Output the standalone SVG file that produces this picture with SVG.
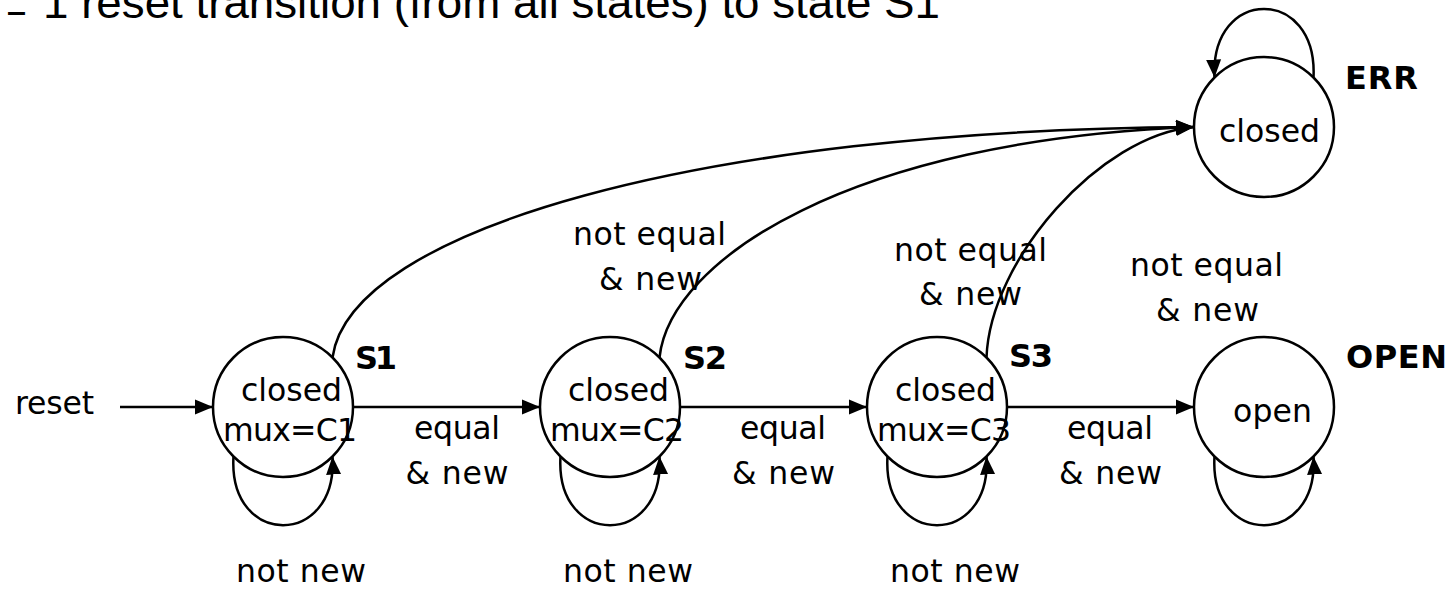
<svg xmlns="http://www.w3.org/2000/svg" width="1452" height="589" viewBox="0 0 1452 589">
<style>
.st{fill:#fff;stroke:#000;stroke-width:2.5}
.t{font-family:"DejaVu Sans","Liberation Sans",sans-serif;font-size:31.5px;fill:#000}
.b{font-family:"DejaVu Sans","Liberation Sans",sans-serif;font-size:32px;font-weight:bold;fill:#000}
.e{fill:none;stroke:#000;stroke-width:2.5}
.hd{font-family:"Liberation Sans",Arial,sans-serif;font-size:44px;fill:#000}
</style>
<defs>
<marker id="arr" markerUnits="userSpaceOnUse" markerWidth="19" markerHeight="16" refX="18" refY="8" orient="auto">
<path d="M0,0.5 L18,8 L0,15.5 z" fill="#000"/>
</marker>
</defs>
<g id="heading">
<text class="hd" x="8" y="25" textLength="17" lengthAdjust="spacingAndGlyphs">–</text>
<text class="hd" x="43" y="18" textLength="897" lengthAdjust="spacingAndGlyphs">1 reset transition (from all states) to state S1</text>
</g>
<g id="connectors">
<path class="e" d="M120,407 L213,407" marker-end="url(#arr)"/>
<path class="e" d="M353,407 L540,407" marker-end="url(#arr)"/>
<path class="e" d="M680,407 L867,407" marker-end="url(#arr)"/>
<path class="e" d="M1007,407 L1194,407" marker-end="url(#arr)"/>
<path class="e" d="M332.5,357.5 C350,230 700,130 1194,127" marker-end="url(#arr)"/>
<path class="e" d="M659.5,357.5 C670,260 850,140 1194,127" marker-end="url(#arr)"/>
<path class="e" d="M986.5,357.5 C990,260 1100,135 1194,127" marker-end="url(#arr)"/>
<path class="e" d="M233.5,456.5 C228,548 338,548 332.5,456.5" marker-end="url(#arr)"/>
<path class="e" d="M560.5,456.5 C555,548 665,548 659.5,456.5" marker-end="url(#arr)"/>
<path class="e" d="M887.5,456.5 C882,548 992,548 986.5,456.5" marker-end="url(#arr)"/>
<path class="e" d="M1214.5,456.5 C1209,548 1319,548 1313.5,456.5" marker-end="url(#arr)"/>
<path class="e" d="M1313.5,77.5 C1318,-14 1210,-14 1214.5,77.5" marker-end="url(#arr)"/>
<text class="t" x="15" y="414" textLength="79">reset</text>
<text class="t" x="414" y="439" textLength="86">equal</text>
<text class="t" x="405.5" y="484" textLength="103">&amp; new</text>
<text class="t" x="740" y="439" textLength="86">equal</text>
<text class="t" x="732" y="484" textLength="103">&amp; new</text>
<text class="t" x="1067" y="439" textLength="86">equal</text>
<text class="t" x="1059" y="484" textLength="103">&amp; new</text>
<text class="t" x="236" y="582" textLength="130">not new</text>
<text class="t" x="563" y="582" textLength="130">not new</text>
<text class="t" x="890" y="582" textLength="130">not new</text>
<text class="t" x="573" y="245" textLength="153">not equal</text>
<text class="t" x="599" y="290" textLength="103">&amp; new</text>
<text class="t" x="894" y="261" textLength="153">not equal</text>
<text class="t" x="919" y="305" textLength="103">&amp; new</text>
<text class="t" x="1130" y="276" textLength="153">not equal</text>
<text class="t" x="1156" y="321" textLength="103">&amp; new</text>
</g>
<g id="S1">
<circle class="st" cx="283" cy="407" r="70"/>
<text class="t" x="241" y="401" textLength="101">closed</text>
<text class="t" x="223" y="441" textLength="134">mux=C1</text>
<text class="b" x="355" y="369" textLength="42">S1</text>
</g>
<g id="S2">
<circle class="st" cx="610" cy="407" r="70"/>
<text class="t" x="568" y="401" textLength="101">closed</text>
<text class="t" x="550" y="441" textLength="134">mux=C2</text>
<text class="b" x="683" y="369" textLength="44">S2</text>
</g>
<g id="S3">
<circle class="st" cx="937" cy="407" r="70"/>
<text class="t" x="895" y="401" textLength="101">closed</text>
<text class="t" x="877" y="441" textLength="134">mux=C3</text>
<text class="b" x="1009" y="367" textLength="44">S3</text>
</g>
<g id="OPEN">
<circle class="st" cx="1264" cy="407" r="70"/>
<text class="t" x="1233" y="422" textLength="79">open</text>
<text class="b" x="1346" y="368" textLength="101">OPEN</text>
</g>
<g id="ERR">
<circle class="st" cx="1264" cy="127" r="70"/>
<text class="t" x="1219" y="142" textLength="101">closed</text>
<text class="b" x="1345" y="89" textLength="73">ERR</text>
</g>
</svg>
